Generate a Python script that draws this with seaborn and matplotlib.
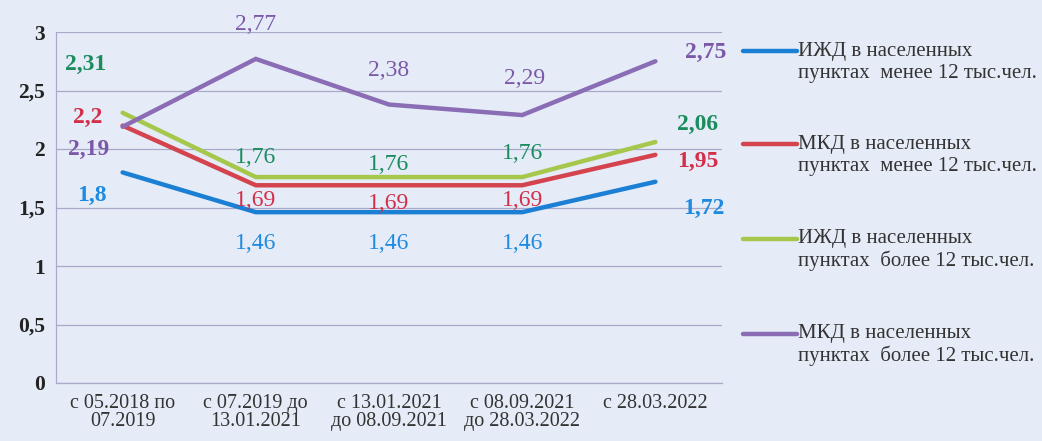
import numpy as np
import pandas as pd
import matplotlib
matplotlib.use("Agg")
import matplotlib.pyplot as plt
import seaborn as sns

# ── data ─────────────────────────────────────────────────────────────────────
periods = ["с 05.2018 по\n07.2019", "с 07.2019 до\n13.01.2021",
           "с 13.01.2021\nдо 08.09.2021", "с 08.09.2021\nдо 28.03.2022",
           "с 28.03.2022"]
series_names = ["ИЖД в населенных\nпунктах  менее 12 тыс.чел.",
                "МКД в населенных\nпунктах  менее 12 тыс.чел.",
                "ИЖД в населенных\nпунктах  более 12 тыс.чел.",
                "МКД в населенных\nпунктах  более 12 тыс.чел."]
izhd_small = [1.80, 1.46, 1.46, 1.46, 1.72]
mkd_small = [2.20, 1.69, 1.69, 1.69, 1.95]
izhd_big = [2.31, 1.76, 1.76, 1.76, 2.06]
mkd_big = [2.19, 2.77, 2.38, 2.29, 2.75]
y_ticks = [0, 0.5, 1, 1.5, 2, 2.5, 3]

# ── styles ───────────────────────────────────────────────────────────────────
LINE_COLORS = ["#1B7FD4", "#D4444E", "#A5C84C", "#8A6DB5"]
TEXT_COLORS = ["#1F8BE0", "#D2304A", "#1A8C5E", "#7B58A8"]
BG = "#E6ECF7"
GRID = "#A9A9C9"
# label offsets in pixels (dx, dy) per series / point
OFFSETS = [
    [(-31, -23), (0, -31), (0, -31), (0, -31), (48, -27)],
    [(-35, 8), (0, -15), (0, -18), (0, -15), (42, -7)],
    [(-37, 48), (0, 20), (0, 13), (0, 24), (42, 18)],
    [(-34, -23), (0, 34), (0, 34), (2, 37), (50, 9)],
]

sns.set_theme(style="white")
plt.rcParams["font.family"] = ["Liberation Serif", "DejaVu Serif"]

values = [izhd_small, mkd_small, izhd_big, mkd_big]
df = pd.DataFrame({
    "x": np.tile(np.arange(len(periods)), len(series_names)),
    "value": np.concatenate(values),
    "series": np.repeat(series_names, len(periods)),
})

fig = plt.figure(figsize=(10.42, 4.41), dpi=100, facecolor=BG)
ax = fig.add_axes([56 / 1042, 1 - 383 / 441, 666 / 1042, 351 / 441])
ax.set_facecolor(BG)

sns.lineplot(data=df, x="x", y="value", hue="series", hue_order=series_names,
             palette=LINE_COLORS, lw=3.2, sort=False, legend=False, ax=ax)
for ln in ax.lines:
    ln.set_solid_joinstyle("miter")

ax.set_xlim(-0.5, len(periods) - 0.5)
ax.set_ylim(0, 3)
ax.set_yticks(y_ticks)
ax.set_yticklabels([f"{t:g}".replace(".", ",") for t in y_ticks],
                   fontsize=15.5, fontweight="bold", color="#222222")
ax.set_xticks(range(len(periods)))
ax.set_xticklabels(periods, fontsize=14.5, color="#333333", linespacing=0.95)
ax.tick_params(axis="x", length=0, pad=8)
ax.tick_params(axis="y", length=0, pad=8)
ax.set_xlabel("")
ax.set_ylabel("")
ax.yaxis.grid(True, color=GRID, lw=0.9)
ax.set_axisbelow(True)
for side in ["top", "right"]:
    ax.spines[side].set_visible(False)
for side in ["left", "bottom"]:
    ax.spines[side].set_color(GRID)
    ax.spines[side].set_linewidth(0.9)

# data labels
px = 72 / fig.dpi
last = len(periods) - 1
for s, vals in enumerate(values):
    for i, v in enumerate(vals):
        dx, dy = OFFSETS[s][i]
        bold = i in (0, last)
        ax.annotate(f"{v:.2f}".rstrip("0").rstrip(".").replace(".", ","),
                    xy=(i, v), xytext=(dx * px, dy * px), textcoords="offset points",
                    ha="center", va="center", fontsize=17,
                    fontweight="bold" if bold else "normal",
                    color=TEXT_COLORS[s], annotation_clip=False)

# legend (leading blank line puts the handle beside the first text line)
leg = fig.legend(ax.lines[:len(series_names)], ["\n" + n for n in series_names],
                 loc="upper left", bbox_to_anchor=(743 / 1042, 1 - 20 / 441),
                 frameon=False, fontsize=15, handlelength=2.6, handletextpad=0.05,
                 labelspacing=1.48, borderpad=0, borderaxespad=0)
for t in leg.get_texts():
    t.set_color("#333333")
    t.set_linespacing(1.2)

fig.savefig("out.png", dpi=100, facecolor=BG)
